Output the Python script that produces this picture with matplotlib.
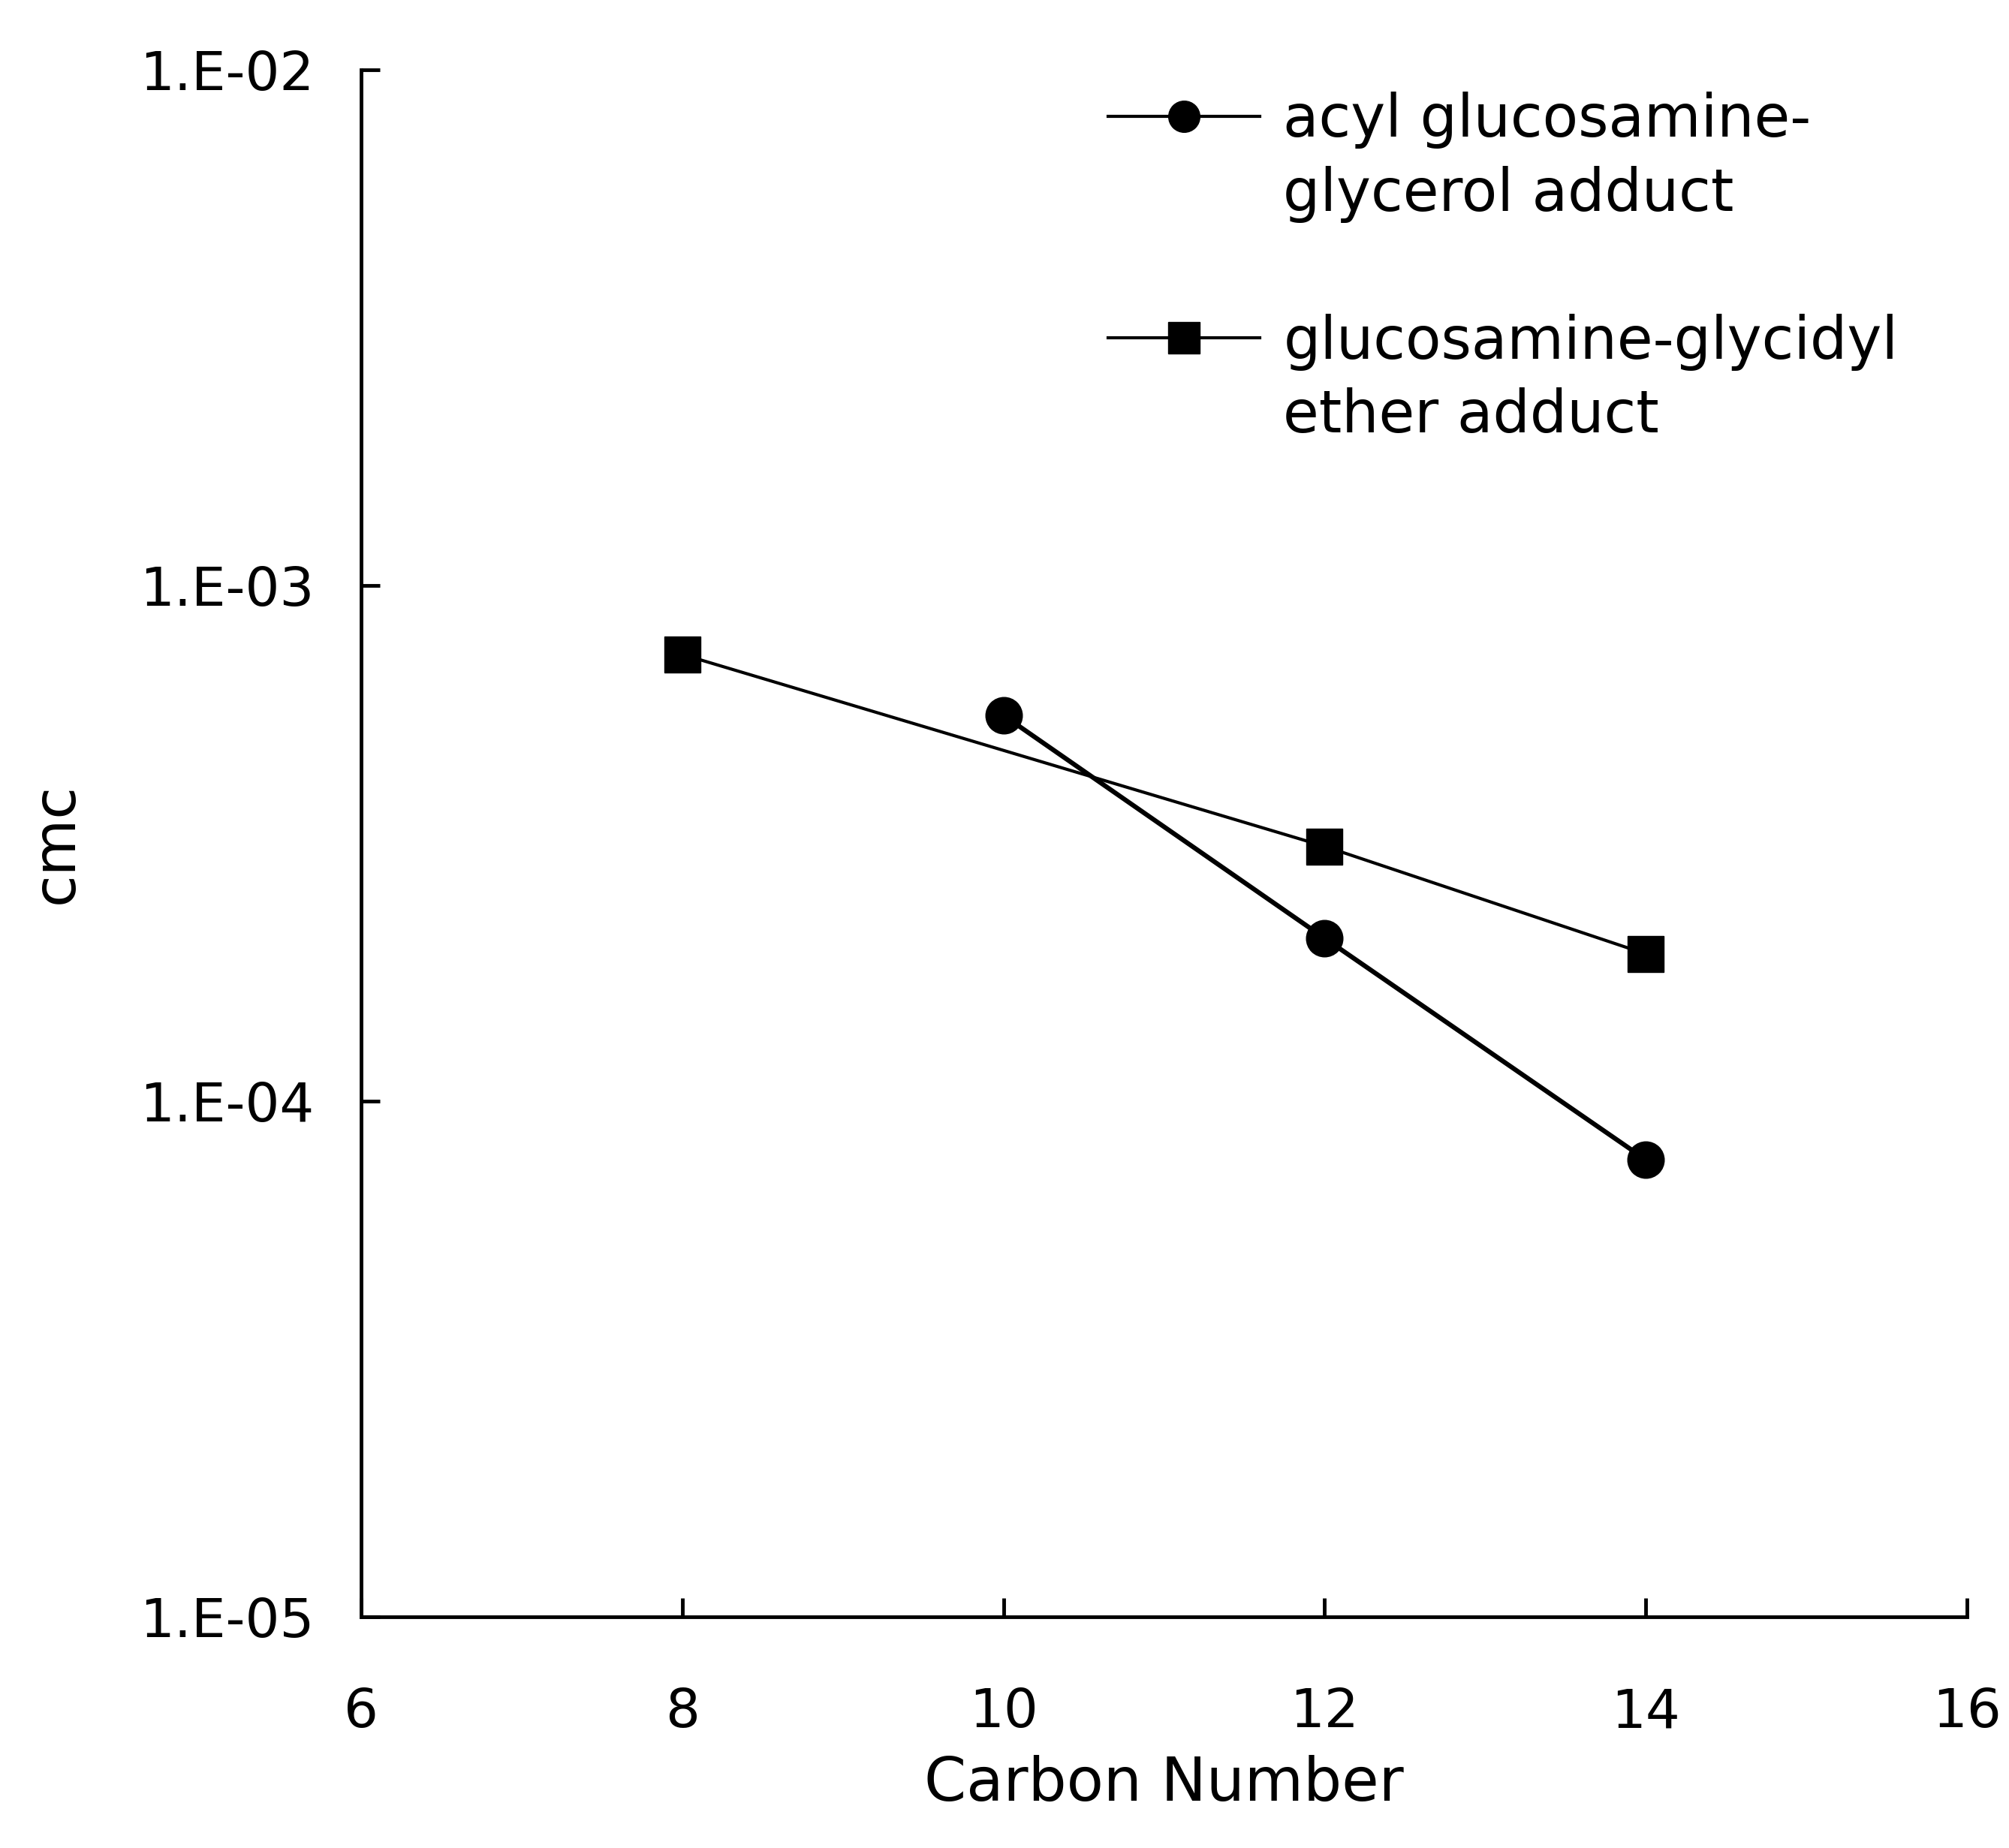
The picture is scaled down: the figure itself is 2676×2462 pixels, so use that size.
import matplotlib
matplotlib.use("Agg")
import matplotlib.pyplot as plt
from matplotlib.lines import Line2D
from matplotlib.ticker import FixedLocator, FixedFormatter, NullLocator

# Critical micelle concentration versus alkyl chain carbon number
carbon_acyl = [10, 12, 14]
cmc_acyl = [5.6e-4, 2.07e-4, 7.7e-5]

carbon_glycidyl = [8, 12, 14]
cmc_glycidyl = [7.35e-4, 3.12e-4, 1.93e-4]

label_acyl = ["acyl glucosamine-", "glycerol adduct"]
label_glycidyl = ["glucosamine-glycidyl", "ether adduct"]

x_ticks = [6, 8, 10, 12, 14, 16]
y_ticks = [1e-5, 1e-4, 1e-3, 1e-2]
y_tick_labels = ["1.E-05", "1.E-04", "1.E-03", "1.E-02"]

W, H, DPI = 2676, 2462, 100
fig = plt.figure(figsize=(W / DPI, H / DPI), dpi=DPI)
fig.patch.set_facecolor("white")

left, right, top, bottom = 481, 2620, 93, 2154
ax = fig.add_axes([left / W, 1 - bottom / H, (right - left) / W, (bottom - top) / H])

ax.plot(carbon_acyl, cmc_acyl, color="black", lw=4.5, marker="o",
        ms=35, mfc="black", mec="black", mew=1, zorder=3)
ax.plot(carbon_glycidyl, cmc_glycidyl, color="black", lw=3, marker="s",
        ms=34, mfc="black", mec="black", mew=1, zorder=3)

ax.set_yscale("log")
ax.set_xlim(6, 16)
ax.set_ylim(1e-5, 1e-2)

ax.xaxis.set_major_locator(FixedLocator(x_ticks))
ax.yaxis.set_major_locator(FixedLocator(y_ticks))
ax.yaxis.set_major_formatter(FixedFormatter(y_tick_labels))
ax.yaxis.set_minor_locator(NullLocator())
ax.xaxis.set_minor_locator(NullLocator())

for side in ("top", "right"):
    ax.spines[side].set_visible(False)
for side in ("left", "bottom"):
    ax.spines[side].set_linewidth(3.5)

ax.tick_params(axis="both", direction="in", length=18, width=3.5,
               labelsize=52, colors="black")
ax.tick_params(axis="y", pad=45)
ax.tick_params(axis="x", pad=67)

ax.set_xlabel("Carbon Number", fontsize=58)
ax.set_ylabel("cmc", fontsize=56)
ax.xaxis.set_label_coords(0.5, -0.089)
ax.yaxis.set_label_coords(-0.172, 0.5)

# Legend: each entry spans two text rows, handle beside the first row
blank = Line2D([], [], color="none")
handles = [
    Line2D([], [], color="black", lw=3, marker="o", ms=30, mfc="black", mec="black"),
    blank,
    blank,
    Line2D([], [], color="black", lw=3, marker="s", ms=30, mfc="black", mec="black"),
    blank,
]
labels = [label_acyl[0], label_acyl[1], "", label_glycidyl[0], label_glycidyl[1]]
leg = ax.legend(handles, labels, loc="upper left",
                bbox_to_anchor=(1476 / W, 1 - 122 / H), bbox_transform=fig.transFigure,
                frameon=False, fontsize=56, handlelength=2.6, handletextpad=0.4,
                labelspacing=0.29, borderpad=0, borderaxespad=0)

fig.savefig("out.png", dpi=DPI, facecolor="white")
